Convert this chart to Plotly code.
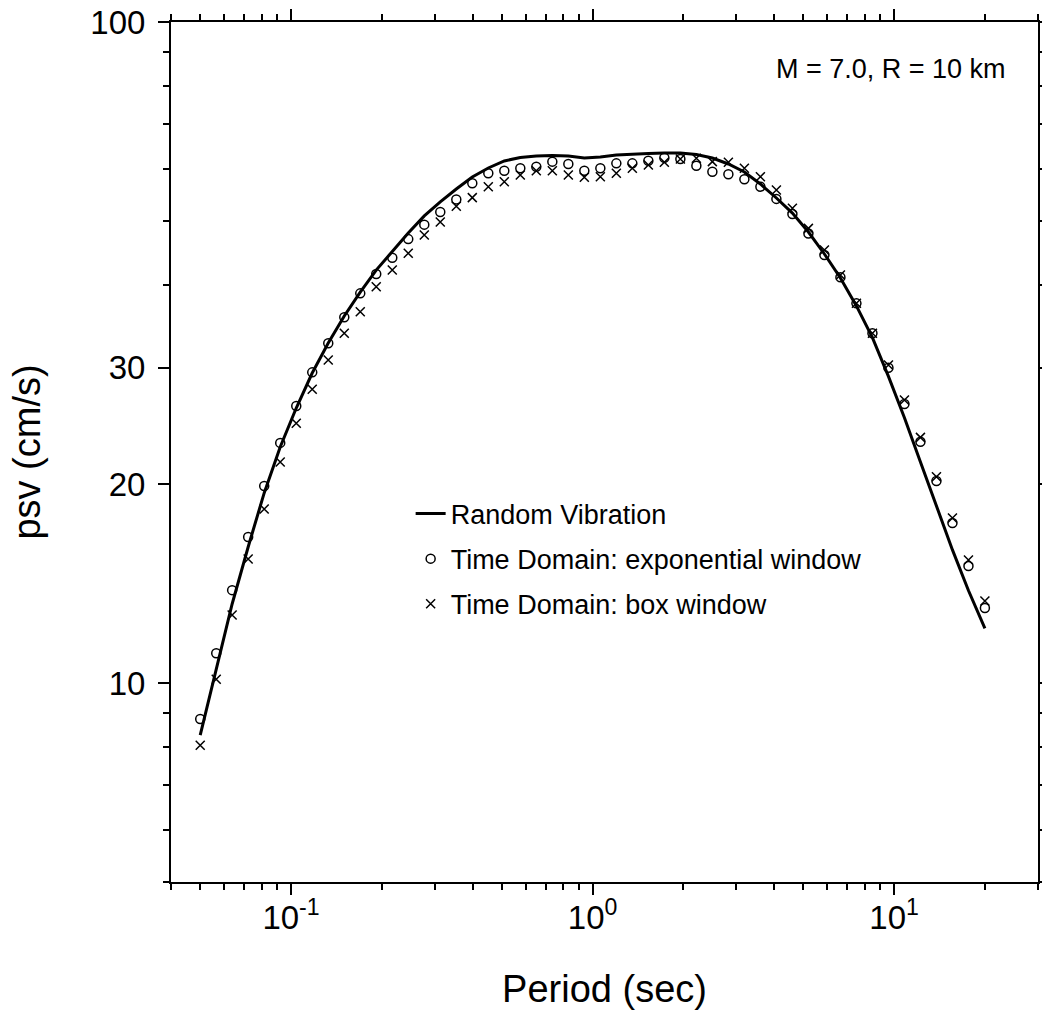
import plotly.graph_objects as go

# Periods (s)
period = [0.0500, 0.0565, 0.0638, 0.0721, 0.0815, 0.0921, 0.1041, 0.1176, 0.1329, 0.1502,
          0.1697, 0.1917, 0.2167, 0.2448, 0.2767, 0.3126, 0.3533, 0.3992, 0.4511, 0.5097,
          0.5760, 0.6508, 0.7355, 0.8311, 0.9391, 1.0612, 1.1991, 1.3549, 1.5311, 1.7301,
          1.9550, 2.2091, 2.4963, 2.8208, 3.1875, 3.6019, 4.0701, 4.5992, 5.1971, 5.8727,
          6.6361, 7.4988, 8.4736, 9.5752, 10.820, 12.226, 13.815, 15.611, 17.641, 20.000]

# Random vibration psv (cm/s)
psv_rv = [8.34, 10.54, 13.17, 16.06, 19.39, 22.75, 26.06, 29.44, 32.68, 35.92,
          39.03, 42.14, 45.04, 47.94, 50.89, 53.43, 55.90, 58.29, 60.14, 61.63,
          62.37, 62.70, 62.81, 62.70, 62.27, 62.49, 62.92, 63.14, 63.25, 63.36,
          63.36, 63.03, 62.27, 60.98, 59.31, 56.88, 54.17, 51.40, 48.11, 44.57,
          41.00, 37.20, 33.30, 29.10, 25.20, 21.60, 18.50, 15.90, 13.80, 12.10]

# Time domain, exponential window
psv_exp = [8.82, 11.09, 13.82, 16.63, 19.86, 23.08, 26.25, 29.51, 32.65, 35.75,
           38.86, 41.56, 43.99, 46.94, 49.37, 51.58, 53.88, 57.02, 59.04, 59.57,
           60.08, 60.41, 61.48, 60.98, 59.57, 60.08, 61.12, 61.12, 61.69, 62.33,
           62.05, 60.62, 59.36, 58.83, 57.81, 56.34, 54.00, 51.24, 47.88, 44.41,
           41.09, 37.53, 33.81, 29.99, 26.43, 23.18, 20.21, 17.46, 15.03, 12.99]

# Time domain, box window
psv_box = [8.05, 10.13, 12.67, 15.40, 18.33, 21.60, 24.71, 27.82, 30.80, 33.81,
           36.45, 39.77, 42.14, 44.68, 47.61, 49.83, 52.64, 54.24, 56.34, 57.34,
           58.69, 59.57, 59.57, 58.69, 58.23, 58.34, 59.04, 60.08, 60.77, 61.34,
           62.05, 62.20, 61.48, 61.34, 60.08, 58.34, 55.69, 52.28, 48.73, 45.19,
           41.42, 37.53, 33.81, 30.27, 26.80, 23.53, 20.51, 17.77, 15.35, 13.31]

x_major = [0.1, 1, 10]
x_major_text = ["10<sup>-1</sup>", "10<sup>0</sup>", "10<sup>1</sup>"]
x_minor = [0.04, 0.05, 0.06, 0.07, 0.08, 0.09, 0.2, 0.3, 0.4, 0.5, 0.6, 0.7, 0.8, 0.9,
           2, 3, 4, 5, 6, 7, 8, 9, 20, 30]
y_major = [10, 20, 30, 100]
y_minor = [5, 6, 7, 8, 9, 40, 50, 60, 70, 80, 90]

FONT = "Liberation Sans, Arial, Helvetica, sans-serif"

fig = go.Figure()
fig.add_trace(go.Scatter(x=period, y=psv_rv, mode="lines", name="Random Vibration",
                         line=dict(color="black", width=3), legendgroup="a"))
fig.add_trace(go.Scatter(x=period, y=psv_exp, mode="markers",
                         name="Time Domain: exponential window",
                         marker=dict(symbol="circle-open", size=9, color="black",
                                     line=dict(width=1.5, color="black")), legendgroup="b"))
fig.add_trace(go.Scatter(x=period, y=psv_box, mode="markers",
                         name="Time Domain: box window",
                         marker=dict(symbol="x-thin-open", size=9, color="black",
                                     line=dict(width=1.5, color="black")), legendgroup="c"))

axis_common = dict(type="log", showline=True, linewidth=2, linecolor="black",
                   mirror="ticks", ticks="outside", ticklen=11, tickwidth=1.5,
                   tickcolor="black", showgrid=False, zeroline=False,
                   ticklabeloverflow="allow",
                   tickfont=dict(size=33, color="black", family=FONT))

fig.update_xaxes(**axis_common, automargin="bottom", range=[-1.39794, 1.47712],
                 tickmode="array", tickvals=x_major, ticktext=x_major_text,
                 ticklabelstandoff=-6,
                 minor=dict(tickmode="array", tickvals=x_minor, ticklen=6,
                            tickwidth=1.5, tickcolor="black", ticks="outside", showgrid=False),
                 title=dict(text="Period (sec)", font=dict(size=38, color="black", family=FONT),
                            standoff=41))
fig.update_yaxes(**axis_common, automargin="left", range=[0.69897, 2.0],
                 tickmode="array", tickvals=y_major, ticktext=[str(v) for v in y_major],
                 ticklabelstandoff=6,
                 minor=dict(tickmode="array", tickvals=y_minor, ticklen=6,
                            tickwidth=1.5, tickcolor="black", ticks="outside", showgrid=False),
                 title=dict(text="psv (cm/s)", font=dict(size=38, color="black", family=FONT),
                            standoff=38))

fig.add_annotation(text="M = 7.0, R = 10 km", xref="paper", yref="paper",
                   x=0.9654, y=0.9453, xanchor="right", yanchor="middle", showarrow=False,
                   font=dict(size=27, color="black", family=FONT))

fig.update_layout(
    width=1042, height=1014,
    margin=dict(l=171, r=4, t=22, b=132),
    paper_bgcolor="white", plot_bgcolor="white",
    font=dict(family=FONT, color="black"),
    legend=dict(x=0.2764, y=0.4564, xanchor="left", yanchor="top",
                font=dict(size=27, color="black", family=FONT),
                bgcolor="rgba(0,0,0,0)", borderwidth=0,
                traceorder="grouped", tracegroupgap=7),
)

fig.write_html("out.html", config={"displayModeBar": False},
               post_script="document.body.style.margin='0';document.body.style.overflow='hidden';")
